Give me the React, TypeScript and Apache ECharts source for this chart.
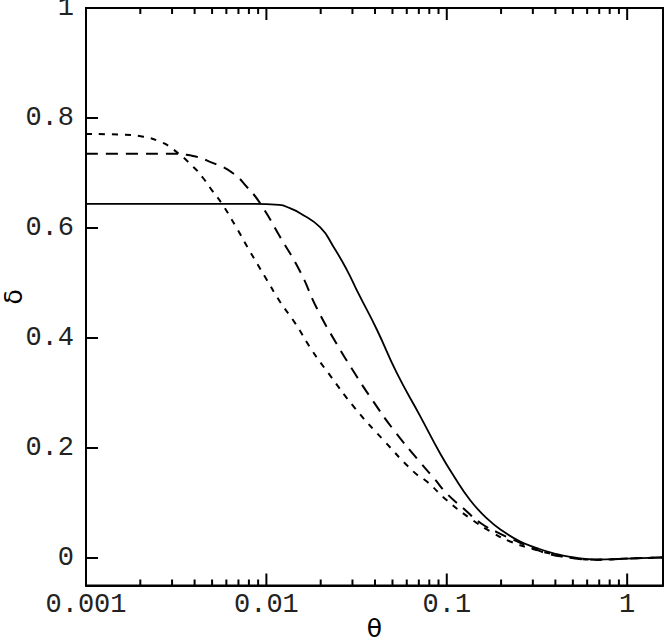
import React, { useEffect, useRef } from "react";
import * as echarts from "echarts";

// Data
const solidTheta = [0.001, 0.004, 0.008, 0.0118, 0.0135, 0.01538, 0.0199, 0.02354, 0.02792, 0.03237, 0.041, 0.0529, 0.0712, 0.0919, 0.1089, 0.1349, 0.1668, 0.2064, 0.2555, 0.316, 0.391, 0.483, 0.68, 1.0, 1.58];
const solidDelta = [0.644, 0.644, 0.644, 0.642, 0.636, 0.627, 0.601, 0.566, 0.524, 0.481, 0.415, 0.336, 0.258, 0.19, 0.15, 0.105, 0.072, 0.048, 0.03, 0.018, 0.0085, 0.002, -0.003, -0.001, 0.001];

const dashedTheta = [0.001, 0.002, 0.003, 0.0036, 0.00508, 0.00656, 0.00778, 0.00923, 0.0119, 0.01538, 0.01904, 0.02456, 0.0317, 0.0376, 0.0507, 0.0712, 0.0844, 0.1001, 0.1238, 0.1532, 0.1896, 0.2344, 0.3027, 0.358, 0.45, 0.68, 1.0, 1.58];
const dashedDelta = [0.735, 0.735, 0.735, 0.733, 0.718, 0.699, 0.675, 0.645, 0.584, 0.521, 0.454, 0.389, 0.33, 0.293, 0.233, 0.174, 0.146, 0.117, 0.09, 0.064, 0.047, 0.033, 0.0176, 0.0085, 0.002, -0.003, -0.001, 0.001];

const dottedTheta = [0.001, 0.0015, 0.00208, 0.00257, 0.00299, 0.00394, 0.00448, 0.00498, 0.00565, 0.0067, 0.00812, 0.00984, 0.0119, 0.01443, 0.01786, 0.02207, 0.03104, 0.04454, 0.0654, 0.0776, 0.1001, 0.1349, 0.1816, 0.2247, 0.303, 0.4, 0.5, 0.68, 1.0, 1.58];
const dottedDelta = [0.771, 0.77, 0.766, 0.757, 0.745, 0.711, 0.69, 0.669, 0.645, 0.605, 0.557, 0.511, 0.466, 0.427, 0.378, 0.336, 0.272, 0.2145, 0.157, 0.139, 0.105, 0.072, 0.045, 0.03, 0.016, 0.006, 0.0, -0.003, -0.001, 0.001];

const xTickValues = [
  0.001, 0.002, 0.003, 0.004, 0.005, 0.006, 0.007, 0.008, 0.009,
  0.01, 0.02, 0.03, 0.04, 0.05, 0.06, 0.07, 0.08, 0.09,
  0.1, 0.2, 0.3, 0.4, 0.5, 0.6, 0.7, 0.8, 0.9,
  1,
];
const xMajorTicks = [0.001, 0.01, 0.1, 1];

const X_MIN = 0.001;
const X_MAX = 1.58;
const Y_MIN = -0.05;
const Y_MAX = 1;

const pair = (xs: number[], ys: number[]) => xs.map((x, i) => [x, ys[i]]);

export default function App() {
  const ref = useRef<HTMLDivElement>(null);
  useEffect(() => {
    const chart = echarts.init(ref.current!, null, { renderer: "svg" });
    const monoFont = "Liberation Mono";
    chart.setOption({
      animation: false,
      grid: {
        left: 86,
        right: 1,
        top: 8,
        bottom: 55.5,
        containLabel: false,
        outerBoundsMode: "none",
        show: true,
        borderColor: "#000",
        borderWidth: 2,
        backgroundColor: "transparent",
      },
      xAxis: {
        type: "log",
        logBase: 10,
        min: X_MIN,
        max: X_MAX,
        name: "θ",
        nameLocation: "middle",
        nameGap: 30,
        nameMoveOverlap: false,
        nameTextStyle: { fontFamily: "DejaVu Sans", fontSize: 25, color: "#000" },
        axisLine: { onZero: false, lineStyle: { color: "#000", width: 2 } },
        axisTick: { show: false },
        splitLine: { show: false },
        minorTick: { show: false },
        axisLabel: {
          showMaxLabel: false,
          margin: 6,
          fontFamily: monoFont,
          fontSize: 27,
          color: "#222",
          formatter: (v: number) => String(parseFloat(Number(v).toPrecision(6))),
        },
      },
      yAxis: {
        type: "value",
        min: Y_MIN,
        max: Y_MAX,
        splitNumber: 5,
        name: "δ",
        nameLocation: "middle",
        nameRotate: 90,
        nameGap: 60,
        nameMoveOverlap: false,
        nameTextStyle: { fontFamily: "DejaVu Sans", fontSize: 25, color: "#000" },
        axisLine: { onZero: false, lineStyle: { color: "#000", width: 2 } },
        axisTick: { inside: true, length: 12, lineStyle: { color: "#000", width: 2 } },
        splitLine: { show: false },
        axisLabel: {
          showMinLabel: false,
          margin: 12,
          fontFamily: monoFont,
          fontSize: 27,
          color: "#222",
          formatter: (v: number) => String(parseFloat(Number(v).toFixed(3))),
        },
      },
      series: [
        {
          type: "custom",
          coordinateSystem: "cartesian2d",
          silent: true,
          clip: false,
          data: xTickValues.map((t) => [t, 0, xMajorTicks.includes(t) ? 1 : 0]),
          encode: { x: 0, y: 1 },
          renderItem: (params: any, api: any) => {
            const t = api.value(0);
            const len = api.value(2) ? 12 : 6;
            const b = api.coord([t, Y_MIN]);
            const tp = api.coord([t, Y_MAX]);
            const st = { stroke: "#000", lineWidth: 2 };
            return {
              type: "group",
              children: [
                { type: "line", shape: { x1: b[0], y1: b[1], x2: b[0], y2: b[1] - len }, style: st },
                { type: "line", shape: { x1: tp[0], y1: tp[1], x2: tp[0], y2: tp[1] + len }, style: st },
              ],
            };
          },
        },
        {
          type: "line",
          data: pair(solidTheta, solidDelta),
          showSymbol: false,
          smooth: 0.5,
          lineStyle: { color: "#000", width: 1.8, type: "solid" },
        },
        {
          type: "line",
          data: pair(dashedTheta, dashedDelta),
          showSymbol: false,
          smooth: 0.5,
          lineStyle: { color: "#000", width: 2, type: [12, 8] },
        },
        {
          type: "line",
          data: pair(dottedTheta, dottedDelta),
          showSymbol: false,
          smooth: 0.5,
          lineStyle: { color: "#000", width: 2, type: [6, 7] },
        },
      ],
    });
    return () => chart.dispose();
  }, []);
  return (
    <div
      ref={ref}
      style={{ position: "absolute", left: 0, top: 0, width: 664, height: 641 }}
    />
  );
}
